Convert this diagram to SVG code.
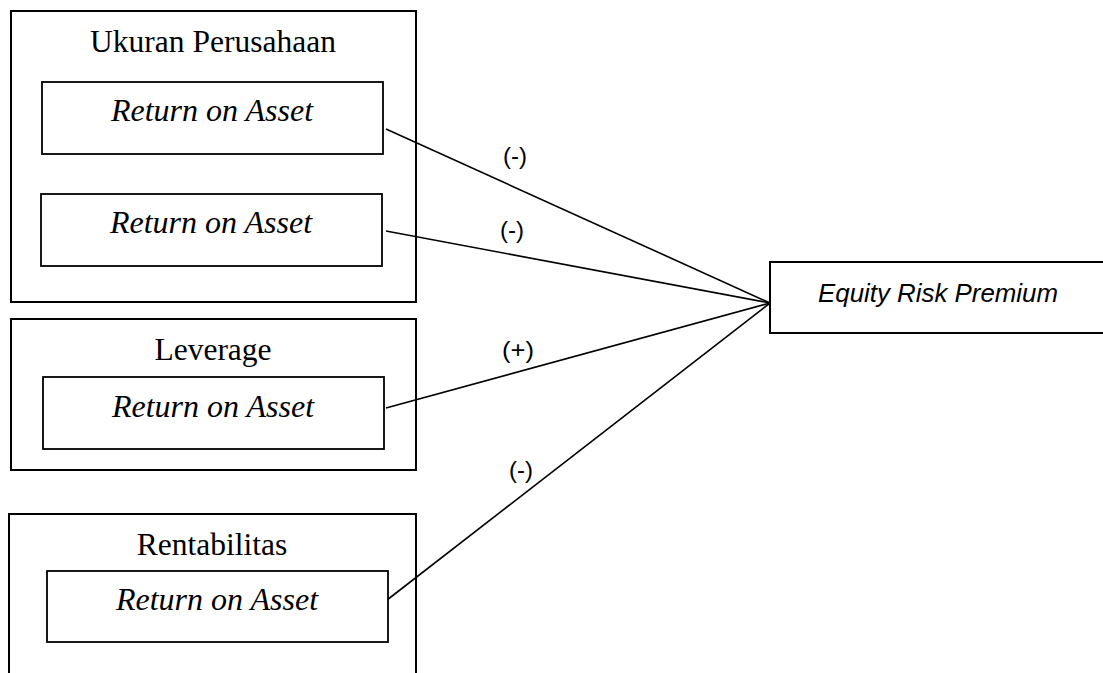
<svg xmlns="http://www.w3.org/2000/svg" width="1103" height="673" viewBox="0 0 1103 673">
<style>
.box{fill:none;stroke:#000;stroke-width:2}
.inner{fill:#fff;stroke:#000;stroke-width:1.8}
.t{font-family:"Liberation Serif","Times New Roman",serif;font-size:31.5px;fill:#000;text-anchor:middle}
.ti{font-family:"Liberation Serif","Times New Roman",serif;font-size:32px;font-style:italic;fill:#000;text-anchor:middle}
.s{font-family:"Liberation Sans",Arial,sans-serif;font-size:24px;fill:#000;text-anchor:middle}
.si{font-family:"Liberation Sans",Arial,sans-serif;font-size:25px;font-style:italic;fill:#000;text-anchor:middle}
.c{stroke:#000;stroke-width:1.6;fill:none}
</style>
<rect width="1103" height="673" fill="#fff"/>
<g id="connectors">
<line class="c" x1="386" y1="129" x2="770" y2="303"/>
<line class="c" x1="386" y1="231" x2="770" y2="303"/>
<line class="c" x1="386" y1="408" x2="770" y2="303"/>
<line class="c" x1="387" y1="600" x2="770" y2="303"/>
<text class="s" x="515" y="164" textLength="24" lengthAdjust="spacingAndGlyphs">(-)</text>
<text class="s" x="512" y="238" textLength="24" lengthAdjust="spacingAndGlyphs">(-)</text>
<text class="s" x="518" y="358" textLength="32" lengthAdjust="spacingAndGlyphs">(+)</text>
<text class="s" x="521" y="478" textLength="24" lengthAdjust="spacingAndGlyphs">(-)</text>
</g>
<g id="ukuran">
<rect class="box" x="11" y="11" width="405" height="291"/>
<text class="t" x="213" y="52">Ukuran Perusahaan</text>
</g>
<g id="roa1">
<rect class="inner" x="42" y="82" width="341" height="72"/>
<text class="ti" x="212" y="121">Return on Asset</text>
</g>
<g id="roa2">
<rect class="inner" x="41" y="194" width="341" height="72"/>
<text class="ti" x="211" y="233">Return on Asset</text>
</g>
<g id="leverage">
<rect class="box" x="11" y="319" width="405" height="151"/>
<text class="t" x="213" y="360">Leverage</text>
</g>
<g id="roa3">
<rect class="inner" x="43" y="377" width="341" height="72"/>
<text class="ti" x="213" y="417">Return on Asset</text>
</g>
<g id="rentabilitas">
<path class="box" d="M9,680 V514 H416 V680"/>
<text class="t" x="212" y="555">Rentabilitas</text>
</g>
<g id="roa4">
<rect class="inner" x="47" y="571" width="341" height="71"/>
<text class="ti" x="217" y="610">Return on Asset</text>
</g>
<g id="erp">
<rect class="box" x="770" y="262" width="340" height="71"/>
<text class="si" x="938" y="302" textLength="240" lengthAdjust="spacingAndGlyphs">Equity Risk Premium</text>
</g>
</svg>
